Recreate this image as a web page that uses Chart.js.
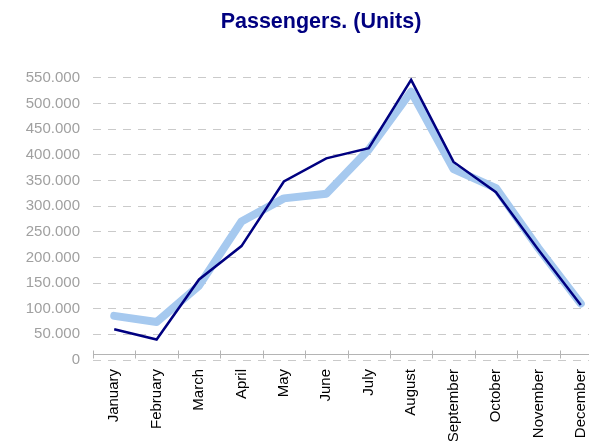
<!DOCTYPE html>
<html>

<head>
    <title>Passengers</title>
    <script src="https://cdn.jsdelivr.net/npm/chart.js"></script>
    <style>
        body { margin: 0; overflow: hidden; background: #fff; }
    </style>
</head>

<body>
    <canvas id="myChart" width="642" height="441"></canvas>

    <script>
        const months = ['January', 'February', 'March', 'April', 'May', 'June',
            'July', 'August', 'September', 'October', 'November', 'December'];
        const darkSeries = [60000, 40000, 157000, 222000, 348000, 393000, 413000, 546000, 386000, 327000, 215000, 107000];
        const lightSeries = [86000, 74000, 145000, 270000, 315000, 324000, 410000, 523000, 372000, 335000, 218000, 110000];
        const yMax = 550000;
        const yStep = 50000;

        // x axis line with category tick marks, sitting a little above the zero grid line
        const axisLine = {
            id: 'axisLine',
            afterDraw(chart) {
                const { ctx, scales: { x, y } } = chart;
                const yy = Math.round(y.getPixelForValue(0)) - 6 + 0.5;
                const step = (x.right - x.left) / months.length;
                ctx.save();
                ctx.strokeStyle = '#b4b4b4';
                ctx.lineWidth = 1;
                ctx.beginPath();
                ctx.moveTo(x.left, yy);
                ctx.lineTo(x.right, yy);
                for (let i = 0; i <= months.length; i++) {
                    const px = Math.round(x.left + i * step) + 0.5;
                    ctx.moveTo(px, yy - 4);
                    ctx.lineTo(px, yy + 4);
                }
                ctx.stroke();
                ctx.restore();
            }
        };

        const fmt = v => String(v).replace(/\B(?=(\d{3})+(?!\d))/g, '.');

        new Chart('myChart', {
            type: 'line',
            data: {
                labels: months,
                datasets: [
                    {
                        label: 'Passengers',
                        data: darkSeries,
                        borderColor: '#000080',
                        borderWidth: 2.5,
                        pointRadius: 0,
                        tension: 0,
                        fill: false
                    },
                    {
                        label: 'Passengers (avg)',
                        data: lightSeries,
                        borderColor: '#a6c9ef',
                        borderWidth: 8,
                        borderCapStyle: 'round',
                        borderJoinStyle: 'round',
                        pointRadius: 0,
                        tension: 0,
                        fill: false
                    }
                ]
            },
            options: {
                responsive: false,
                animation: false,
                layout: { padding: 0 },
                plugins: {
                    legend: { display: false },
                    tooltip: { enabled: false },
                    title: {
                        display: true,
                        text: 'Passengers. (Units)',
                        color: '#000080',
                        font: { family: 'Liberation Sans', size: 21.5, weight: 'bold' },
                        padding: { top: 9, bottom: 43 }
                    }
                },
                scales: {
                    x: {
                        offset: true,
                        grid: { display: false, drawTicks: false },
                        border: { display: false },
                        ticks: {
                            color: '#000',
                            font: { family: 'Liberation Sans', size: 15 },
                            minRotation: 90,
                            maxRotation: 90,
                            padding: 9,
                            autoSkip: false
                        },
                        afterFit(scale) { scale.height = 81; }
                    },
                    y: {
                        min: 0,
                        max: yMax,
                        grid: { color: '#cacaca', drawTicks: false, lineWidth: 1 },
                        border: { display: false, dash: [8, 7] },
                        ticks: {
                            stepSize: yStep,
                            color: '#a0a0a0',
                            font: { family: 'Liberation Sans', size: 15 },
                            padding: 13,
                            callback: v => fmt(v)
                        },
                        afterFit(scale) { scale.width = 93; }
                    },
                    // empty right-hand spacer so the plot ends past the window edge
                    spacer: {
                        type: 'linear',
                        position: 'right',
                        display: true,
                        grid: { display: false, drawTicks: false },
                        border: { display: false },
                        ticks: { display: false },
                        afterFit(scale) { scale.width = 40; }
                    }
                }
            },
            plugins: [axisLine]
        });
    </script>
</body>

</html>
